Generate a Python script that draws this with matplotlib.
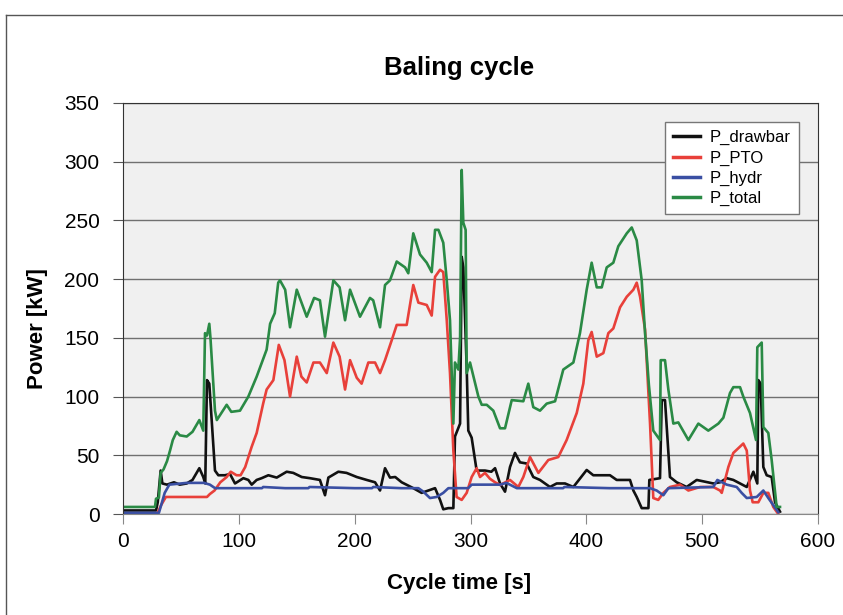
import numpy as np
import matplotlib.pyplot as plt
from matplotlib.lines import Line2D

plt.rcParams['font.family'] = ['Liberation Sans', 'DejaVu Sans']

# P_drawbar
t_drawbar = [0, 28.5, 30, 32.5, 34, 38, 44, 49, 55, 60, 65.9, 69.3, 71, 72.5, 74.5,
             79.4, 82.3, 88, 92.4, 96.7, 103.9, 108.2, 111.1, 115.4, 119.7, 125.5, 132.7,
             141.3, 147, 154.3, 161.4, 170, 174.4, 177.3, 185.9, 193, 201.8, 210.4, 217.6,
             221.9, 226.2, 230.5, 235, 240.6, 250.6, 257.8, 263.6, 269.4, 273.7, 276.5,
             280.9, 285.2, 286.6, 291, 292.4, 293.8, 296.7, 298.1, 301, 305.3, 312.5, 318,
             321.2, 325.5, 329.8, 334.1, 338.4, 342.7, 348.5, 354.2, 360, 368.6, 374.4,
             381.6, 388.8, 400.3, 406, 420.4, 426.2, 437.7, 440.6, 443.5, 447.8, 453.6,
             454.4, 463.6, 465.1, 467.9, 472.2, 478, 486.6, 495.3, 509.6, 515.4, 521.2,
             526.9, 532.7, 538.5, 544.2, 547.6, 548.5, 550.5, 552.8, 555.7, 560, 562.9, 567.2]
p_drawbar = [3, 3, 10, 37, 26, 25, 27, 25, 26, 29, 39, 31.5, 26, 114, 111,
             37, 33, 33, 34, 26, 30.5, 29, 25, 29, 30.5, 33, 31,
             36, 35, 31.5, 30.5, 29, 16, 31, 36, 35, 31.5, 29, 27,
             20, 39, 31, 31.5, 27, 22, 18, 20, 22, 12, 4,
             5, 5, 66, 77, 219, 210, 125, 71, 65, 37, 37, 36,
             39, 26, 19, 40, 52, 44, 43, 31.5, 29, 23, 26,
             26, 23, 37.5, 33, 33, 29, 29, 20, 14.5, 5, 5,
             29, 30.5, 97, 97, 31.5, 27, 23, 29, 26, 27, 30.5,
             29, 26, 23, 36, 26, 114, 111, 40, 33, 31.5, 10, 2]

# P_PTO
t_pto = [0, 29.4, 33, 37, 72.5, 75, 79, 84, 89.5, 93, 98, 101.5, 105.5, 111, 115.4,
         121, 124, 129.8, 134.5, 139.4, 144.2, 150, 154, 158.6, 164.4, 170, 175.9,
         181.6, 187, 191.7, 196, 201.8, 206, 211.8, 217.6, 221.9, 226.2, 232, 236.3,
         244.9, 250.6, 255, 262.2, 266.5, 269.4, 273.7, 276.5, 279.5, 282.3, 285.2,
         288, 292.4, 296.7, 301, 305.3, 308.2, 312.5, 316.8, 321.2, 325.5, 334.1,
         341.3, 345.6, 351.4, 358.6, 367.2, 375.8, 383, 391.7, 397.4, 401.7, 404.6,
         409, 414.7, 419, 423.3, 429.1, 434.9, 440.6, 443.5, 446.4, 450.7, 455, 457.8,
         462.1, 466.5, 472.2, 480.9, 488.1, 498.2, 509.6, 515.4, 516.9, 522.6, 526.9,
         535.5, 538.5, 541.3, 543.6, 548.5, 552.8, 557.1, 561.4, 565.7]
p_pto = [0, 0, 7.7, 14.5, 14.5, 17, 20, 27, 31.5, 36, 33, 33, 40, 57, 69,
         94, 106, 114, 144, 131, 100, 134, 117, 112, 129, 129, 120,
         146, 134, 106, 131, 116, 111, 129, 129, 120, 131, 148, 161,
         161, 195, 180, 178, 169, 202, 208, 206, 165, 120, 54,
         14.5, 12, 18, 31.5, 39, 31.5, 35, 30, 27, 24.7, 29,
         23, 31.5, 48.5, 35, 46, 48.5, 63, 86, 111, 148, 155,
         134, 137, 154, 158, 176, 185, 191, 197, 185, 157, 77, 13.6,
         12, 18, 23, 25, 20, 23, 23, 20, 18, 40, 52,
         60, 54, 20, 10, 10, 18, 18, 6, 0]

# P_hydr
t_hydr = [0, 31, 33, 36, 40, 55, 70, 75, 79.5, 100, 120, 121, 140, 160, 161, 200,
          215, 216, 240, 255, 259.3, 265, 270.8, 276.5, 280.9, 298, 301, 325.5, 331,
          340, 380, 381, 420, 455, 460.7, 466.5, 470.8, 509.6, 513.1, 521.2, 529.8,
          534.1, 538.5, 547.1, 552.8, 557.1, 565.7]
p_hydr = [1, 1, 7.7, 18, 25, 26.5, 26.5, 25, 22, 22, 22, 23, 22, 22, 23, 22,
          22, 23, 22, 22, 19, 13.6, 14.5, 18, 22, 22, 25, 25, 26.5,
          22, 22, 23, 22, 22, 20, 16, 22, 23, 29, 25, 23,
          18, 13.6, 14.5, 20, 13.6, 1.5]

# P_total
t_total = [0, 27.6, 28.5, 31, 32.5, 35, 38, 40.6, 43, 46.3, 49, 55, 60, 65.9, 69.3,
           70.8, 72.5, 74.5, 75.5, 79.4, 81, 89.5, 93.5, 101, 108.2, 115.4, 124, 127,
           131, 134, 135.5, 140, 144.2, 150, 158.6, 165, 170, 174.4, 181.6, 187, 191.7,
           196, 204.6, 213.2, 216, 221.9, 226.2, 230.5, 236.3, 243.5, 246.3, 250.6,
           256.4, 262.2, 266.5, 269.4, 272.3, 276.5, 279.5, 282.3, 285.2, 286.6, 289.5,
           291, 292.4, 293.8, 295.8, 296.7, 299.6, 306.8, 309.7, 314, 319.7, 325.5,
           329.8, 335.6, 345.6, 349.9, 354.2, 360, 365.8, 373, 380.1, 388.8, 394.5,
           400.3, 404.6, 409, 413.3, 417.6, 423.3, 427.6, 434.9, 439.2, 443.5, 447.8,
           450.7, 454, 457.8, 463.6, 464.2, 467.9, 470.8, 475.1, 479.4, 488.1, 496.7,
           505.3, 514, 518.3, 524, 526.9, 532.7, 535.5, 541.3, 546.5, 547.6, 551.4,
           552.8, 557.1, 560, 564.3, 567.2]
p_total = [6, 6, 13, 14, 35, 38, 45, 54, 63, 70, 67, 66, 70, 80, 71,
           154, 152, 162, 150, 88, 80, 93, 87, 88, 100, 117, 140, 162,
           171, 197, 199, 191, 159, 191, 168, 184, 182, 151, 199, 193, 165,
           191, 168, 184, 182, 159, 195, 199, 215, 210, 205, 239,
           221, 214, 206, 242, 242, 231, 199, 165, 77, 129, 123,
           150, 293, 248, 242, 120, 129, 100, 93, 93, 88, 73,
           73, 97, 96, 111, 91, 88, 94, 96, 123, 129, 154,
           191, 214, 193, 193, 210, 214, 228, 239, 244, 233, 199,
           154, 110, 71, 63, 131, 131, 106, 77, 78, 63, 77,
           71, 77, 82, 103, 108, 108, 100, 86, 63, 142, 146,
           74, 69, 46, 6, 6]

fig = plt.figure(figsize=(8.43, 6.15), dpi=100)
ax = fig.add_axes([123 / 843, 1 - 514 / 615, 695 / 843, 411 / 615])
ax.set_facecolor('#f0f0f0')

lw = 1.9
ax.plot(t_drawbar, p_drawbar, color='#111111', lw=lw, label='P_drawbar')
ax.plot(t_pto, p_pto, color='#e8403a', lw=lw, label='P_PTO')
ax.plot(t_hydr, p_hydr, color='#3a4fa3', lw=lw, label='P_hydr')
ax.plot(t_total, p_total, color='#2a8a45', lw=lw, label='P_total')

ax.set_xlim(0, 600)
ax.set_ylim(0, 350)
ax.set_xticks(np.arange(0, 601, 100))
ax.set_yticks(np.arange(0, 351, 50))
ax.yaxis.grid(True, color='#707070', lw=1)
ax.set_axisbelow(True)

for s in ['top', 'right', 'left']:
    ax.spines[s].set_color('#333333')
ax.spines['bottom'].set_color('#888888')
ax.tick_params(axis='x', direction='out', length=7, color='#888888', labelsize=15, pad=6)
ax.tick_params(axis='y', direction='out', length=7, color='#555555', labelsize=15, pad=10)

ax.set_title('Baling cycle', fontsize=18.5, fontweight='bold', pad=20, x=0.4835)
ax.set_xlabel('Cycle time [s]', fontsize=16, fontweight='bold', labelpad=16, x=0.4835)
ax.set_ylabel('Power [kW]', fontsize=16, fontweight='bold')
ax.yaxis.set_label_coords(-0.108, 0.45)

leg = ax.legend(loc='upper right', bbox_to_anchor=(0.973, 0.954), borderaxespad=0,
                fontsize=12, fancybox=False, framealpha=1, edgecolor='#777777',
                handlelength=1.6, handletextpad=0.6, labelspacing=0.3, borderpad=0.5)
leg.get_frame().set_linewidth(1)
for h in leg.get_lines():
    h.set_linewidth(2.5)

# outer frame of the figure
y_top = 1 - 14.5 / 615
x_left = 5.5 / 843
fig.add_artist(Line2D([x_left, 1], [y_top, y_top], transform=fig.transFigure, color='#555555', lw=1))
fig.add_artist(Line2D([x_left, x_left], [0, y_top], transform=fig.transFigure, color='#555555', lw=1))

fig.savefig('out.png', dpi=100)
